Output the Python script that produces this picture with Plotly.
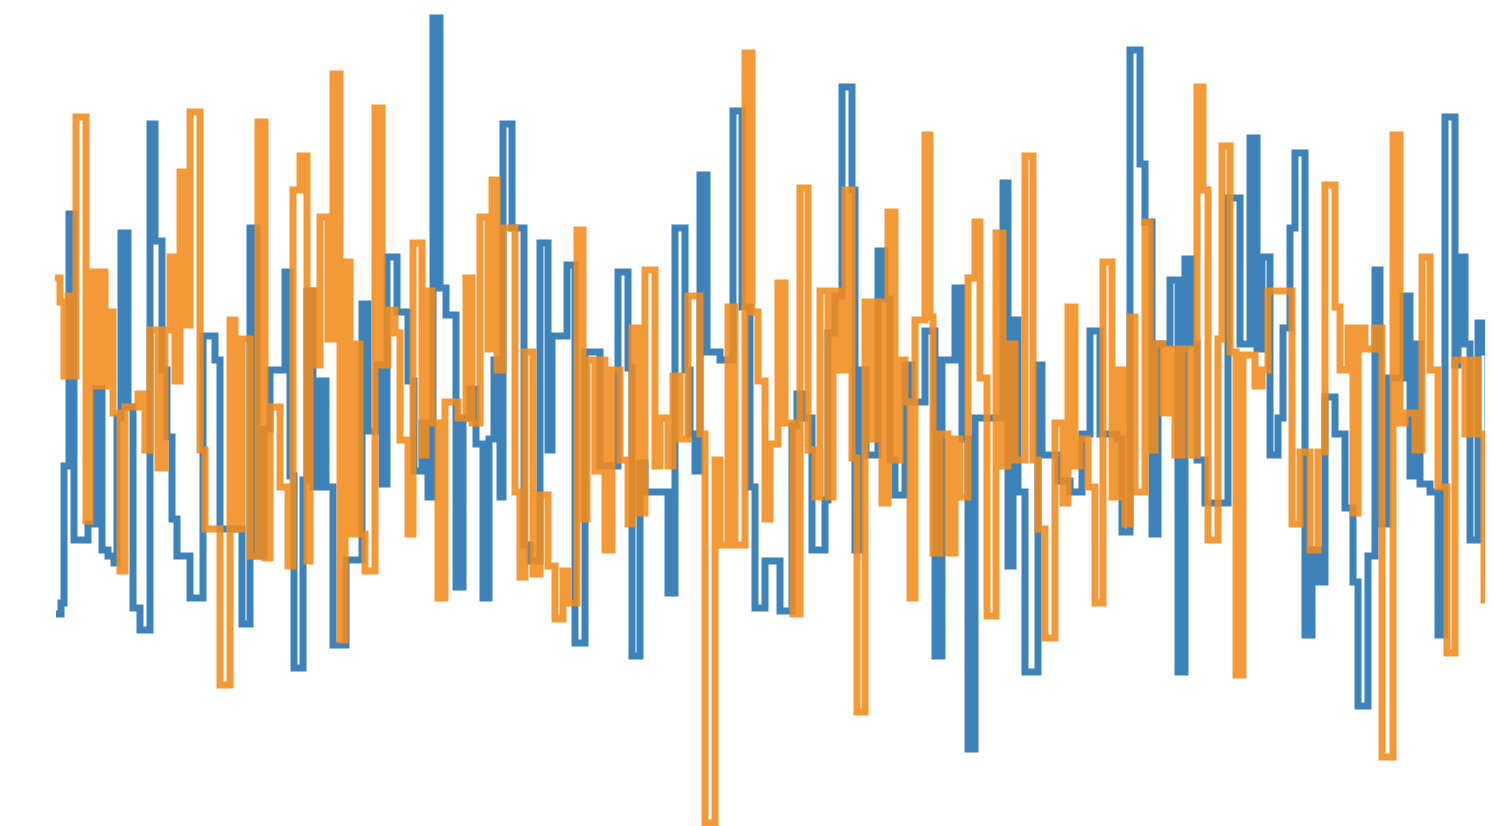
import plotly.graph_objects as go

# step index (time) and level for each series
blue_t = [1, 6, 9, 14, 19, 33, 41, 47, 53, 59, 62, 66, 73, 78, 85, 95, 100, 107, 112, 117,
          122, 135, 148, 160, 165, 187, 195, 202, 209, 215, 230, 235, 239, 248, 252, 258, 265, 271, 278, 291,
          307, 313, 322, 327, 332, 342, 353, 359, 367, 373, 378, 385, 391, 401, 408, 415, 421, 428, 434, 439,
          445, 448, 457, 469, 475, 485, 493, 497, 512, 520, 530, 545, 563, 573, 577, 585, 590, 613, 620, 630,
          635, 640, 645, 652, 665, 678, 687, 695, 700, 710, 725, 737, 742, 748, 757, 770, 773, 780, 787, 797,
          800, 805, 811, 823, 830, 835, 840, 850, 857, 870, 880, 887, 900, 907, 913, 920, 948, 953, 958, 963,
          970, 983, 987, 1003, 1015, 1027, 1035, 1045, 1062, 1067, 1075, 1085, 1090, 1097, 1103, 1115, 1123, 1130, 1137, 1142,
          1150, 1173, 1185, 1195, 1202, 1207, 1215, 1223, 1228, 1235, 1240, 1250, 1257, 1263, 1270, 1280, 1290, 1298, 1303, 1313,
          1320, 1325, 1333, 1348, 1355, 1360, 1365, 1375, 1383, 1390, 1400, 1403, 1410, 1415, 1423, 1428, 1433, 1445]
blue_v = [-1.94, -1.83, -0.46, 2.06, -1.20, -1.04, 0.31, -1.30, -1.36, -1.43, 0.02, 1.87, 0.13, -1.88, -2.10, 2.96, 1.79, 0.50, -0.17, -0.99,
          -1.36, -1.78, 0.84, 0.60, -1.09, -2.04, 1.92, -1.36, -0.09, 0.50, 1.48, -0.56, -2.48, -0.60, 1.29, -0.67, 0.39, -0.67, -2.25, -1.40,
          1.16, -0.11, 0.55, -0.64, 1.63, 1.08, 0.39, -0.51, -0.03, -0.77, 4.02, 1.32, 1.05, -1.67, 0.02, 0.31, -0.24, -1.78, -0.19, 0.60,
          -0.77, 2.96, 1.92, -1.25, -1.41, 1.77, -0.30, 0.84, 1.55, -2.23, 0.68, -0.46, 1.48, 0.52, -2.36, -0.43, -0.72, -1.73, 1.92, 0.50,
          -0.14, -0.51, 2.45, 0.68, 0.60, 3.09, 1.13, -0.67, -1.88, -1.41, -1.91, -0.06, 0.26, 0.02, -1.30, -0.80, 0.87, 1.24, 3.33, 2.30,
          -1.30, 0.50, -0.35, 1.69, 1.21, -0.40, -0.75, 0.55, 0.18, 0.89, -2.36, 0.60, 1.32, -0.19, -3.29, 0.02, 2.37, -1.46, 1.00, -0.72,
          -2.52, 0.55, -0.35, -0.61, -0.72, -0.14, 0.89, -0.14, -0.19, -1.12, 3.70, 2.56, 1.98, -1.14, 0.76, 1.40, -2.52, 1.61, 0.76, -0.40,
          -0.83, 2.22, 0.76, 2.82, 0.71, 1.63, -0.35, 0.02, 0.92, 1.92, 2.67, -2.15, -1.30, -1.62, 0.23, -0.14, -0.88, -1.62, -2.86, -1.36,
          1.50, -1.04, 0.42, 1.24, -0.56, 0.76, -0.64, -0.72, -2.15, 3.03, 0.55, 1.63, 0.76, -1.20, 0.97, 0.68, -1.54, -1.54]

orange_t = [0, 5, 9, 13, 17, 21, 31, 35, 40, 45, 50, 53, 58, 65, 70, 83, 90, 95, 103, 110,
            115, 120, 125, 130, 135, 145, 150, 165, 175, 180, 187, 195, 203, 210, 215, 225, 233, 238, 245, 252,
            255, 260, 265, 273, 278, 285, 290, 295, 300, 305, 310, 320, 327, 333, 340, 345, 353, 358, 367, 371,
            377, 383, 390, 403, 411, 417, 425, 433, 437, 442, 448, 460, 465, 470, 478, 485, 493, 500, 508, 513,
            522, 528, 532, 540, 545, 550, 557, 565, 573, 577, 583, 590, 600, 605, 613, 618, 625, 633, 645, 650,
            660, 665, 673, 680, 690, 697, 703, 710, 715, 723, 730, 738, 745, 753, 760, 765, 773, 778, 785, 790,
            797, 802, 810, 817, 822, 827, 833, 840, 845, 850, 855, 860, 870, 875, 878, 885, 893, 900, 905, 913,
            920, 925, 932, 941, 948, 953, 960, 970, 978, 983, 990, 1000, 1008, 1013, 1020, 1025, 1033, 1040, 1048, 1057,
            1063, 1070, 1075, 1080, 1090, 1095, 1100, 1108, 1113, 1120, 1127, 1135, 1142, 1148, 1153, 1163, 1167, 1175, 1181, 1188,
            1200, 1207, 1213, 1237, 1245, 1255, 1263, 1270, 1280, 1285, 1293, 1298, 1303, 1310, 1320, 1327, 1338, 1345, 1350, 1360,
            1367, 1375, 1383, 1392, 1400, 1410, 1417, 1423, 1429, 1445]
orange_v = [1.42, 1.18, 0.44, 1.24, 0.44, 3.03, -1.01, 1.48, 0.34, 1.48, 0.34, 1.08, 0.07, -1.51, 0.13, 0.26, -0.30, 0.90, -0.48, 0.90,
            1.63, 0.39, 2.48, 0.95, 3.08, -0.30, -1.09, -2.65, 1.00, -1.09, 0.81, -1.36, 2.98, -1.38, 0.13, -0.67, -1.46, 2.30, 2.64, -1.41,
            1.29, 0.55, 2.03, 0.81, 3.46, -2.20, 1.58, -1.14, 0.76, -1.14, -1.51, 3.12, 0.55, 1.10, 0.87, -0.20, -1.14, 1.77, -0.35, 1.29,
            -0.03, -1.78, 0.18, 0.02, 1.42, -0.03, 2.03, 0.71, 2.40, 0.50, 1.92, -0.72, -1.57, 0.68, -1.54, -0.75, -1.46, -1.99, -1.51, -1.83,
            1.90, -0.99, 0.60, -0.51, 0.60, -1.30, 0.50, -0.40, -1.04, 0.92, -0.93, 1.50, -0.46, 0.02, -0.46, 0.44, -0.19, 1.24, -0.14, -4.03,
            -0.40, -1.25, 1.13, -1.25, 3.67, 1.08, 0.39, -0.99, -0.24, 1.37, -0.03, -1.94, 2.32, -0.30, -0.77, 1.29, -0.77, 1.29, 0.50, 2.30,
            -0.38, -2.92, 1.18, -0.19, 1.18, -0.83, 2.08, -0.40, 0.60, 0.18, -1.78, 1.00, 2.85, 1.03, -1.33, -0.14, -1.33, -0.19, -0.77, 1.42,
            1.98, 0.42, -1.96, 1.87, -0.46, 0.76, -0.40, 2.64, -0.40, -1.09, -2.18, -0.03, -0.83, 1.13, -0.46, -0.19, -0.67, -1.83, 1.58, -0.77,
            0.50, -1.04, 1.03, -0.72, 1.98, -0.30, 0.76, 0.07, 0.71, -0.35, 0.71, -0.35, 3.33, 2.30, -1.20, 0.81, 2.74, 0.68, -2.55, 0.65,
            0.34, 0.50, 1.29, -1.04, -0.32, -1.30, -0.32, 2.35, 1.13, 0.50, 0.92, -0.93, 0.92, 0.71, 0.92, -3.37, 2.85, -0.03, 0.07, -0.30,
            1.63, 0.50, -0.67, -2.33, 0.60, -0.14, 0.60, -0.14, -1.80, -1.80]

fig = go.Figure()
fig.add_trace(go.Scatter(x=blue_t, y=blue_v, mode="lines", line_shape="hv",
                         line=dict(color="#2e78b5", width=7), opacity=0.92, showlegend=False))
fig.add_trace(go.Scatter(x=orange_t, y=orange_v, mode="lines", line_shape="hv",
                         line=dict(color="#f28c1c", width=7), opacity=0.88, showlegend=False))

fig.update_layout(
    width=1485, height=818,
    margin=dict(l=0, r=0, t=0, b=0),
    paper_bgcolor="white", plot_bgcolor="white",
    xaxis=dict(visible=False, range=[-47, 1438]),
    yaxis=dict(visible=False, range=[-4.06, 4.12]),
)
fig.write_html("out.html", config={"displayModeBar": False})
